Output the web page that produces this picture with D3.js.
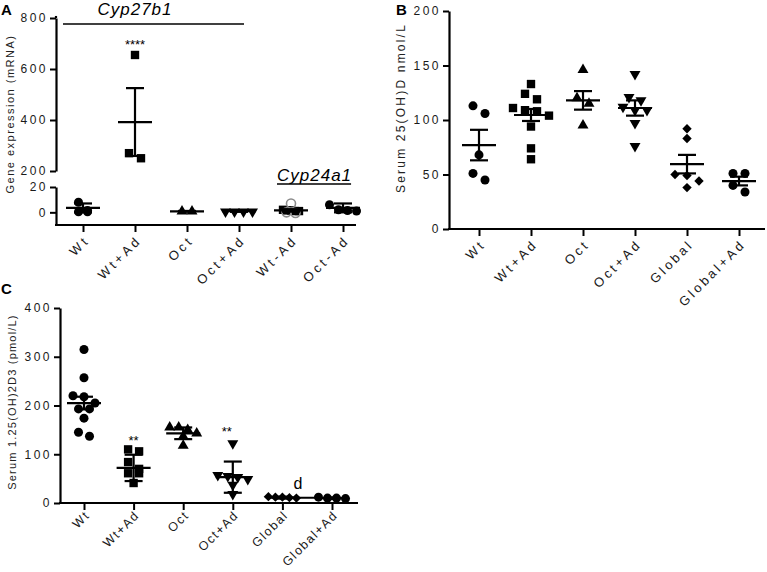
<!DOCTYPE html>
<html><head><meta charset="utf-8">
<script src="https://cdn.jsdelivr.net/npm/d3@7"></script>
<style>
body{margin:0;background:#fff;}
svg{display:block;font-family:"Liberation Sans",Arial,sans-serif;}
</style></head><body>
<svg id="c" width="767" height="572"></svg>
<script>
// ---------- DATA ----------
const catsA = ["Wt","Wt+Ad","Oct","Oct+Ad","Wt-Ad","Oct-Ad"];
const catsBC = ["Wt","Wt+Ad","Oct","Oct+Ad","Global","Global+Ad"];

// Panel A: Gene expression (mRNA)
const aWt = [1.5, 0.5, 0.5, 8];
const aWtAd = [655, 270, 250];
const aOct = [0.8, 0.8];
const aOctAd = [0.5, 0.5, 0.5, 0.5];
const aWtMinusAd = [1, 1.5, 1, 2, 1.5];
const aWtMinusAdGrey = [-0.5, 0, 7];
const aOctMinusAd = [1, 1.5, 2, 6];
const aMean = [3.5, 392, 0.8, 1, 1.5, 3.5];
const aErr = [3.5, 133, 0.3, 0.6, 1, 3.5];
const aTicksUpper = [200, 400, 600, 800];
const aTicksLower = [0, 20];

// Panel B: Serum 25(OH)D nmol/L
const bWt = [106, 113, 68, 51, 45];
const bWtAd = [133, 124, 119, 111, 109, 108, 104, 94, 74, 64];
const bOct = [146, 115, 120, 95];
const bOctAd = [142, 118, 121, 109, 109, 112, 97, 76];
const bGlobal = [92, 83, 49, 50, 44, 38];
const bGlobalAd = [51, 51, 40, 34];
const bMean = [77, 104.6, 118, 111, 59.5, 44];
const bErr = [14, 5.5, 8.5, 7, 8.5, 4];
const bTicks = [0, 50, 100, 150, 200];

// Panel C: Serum 1.25(OH)2D3 (pmol/L)
const cWt = [315, 257, 220, 218, 205, 193, 193, 174, 145, 137];
const cWtAd = [110, 106, 84, 70, 61, 61, 41];
const cOct = [155, 155, 150, 143, 137, 118];
const cOctAd = [122, 57, 55, 53, 49, 37, 18];
const cGlobal = [12, 11, 13, 10, 12];
const cGlobalAd = [10, 9, 10, 12];
const cMean = [205, 72, 143, 53, 11, 10];
const cErr = [13, 27, 12, 32, 2, 1.5];
const cTicks = [0, 100, 200, 300, 400];

// ---------- HELPERS ----------
const svg = d3.select("#c");
const FONT = "Liberation Sans, Arial, sans-serif";

const shapes = {
  circle: {type: d3.symbolCircle, size: 64, rot: 0},
  square: {type: d3.symbolSquare, size: 70, rot: 0},
  triUp: {type: d3.symbolTriangle, size: 52, rot: 0},
  triDown: {type: d3.symbolTriangle, size: 52, rot: 180},
  diamond: {type: d3.symbolSquare, size: 44, rot: 45}
};

function swarm(ys, binH, step) {
  const idx = ys.map((v, i) => i).sort((a, b) => ys[a] - ys[b]);
  const off = new Array(ys.length).fill(0);
  let bin = [], start = null;
  const flush = () => bin.forEach((i, k) => off[i] = (k - (bin.length - 1) / 2) * step);
  idx.forEach(i => {
    if (start === null || ys[i] - start > binH) { if (bin.length) flush(); bin = [i]; start = ys[i]; }
    else bin.push(i);
  });
  if (bin.length) flush();
  return off;
}

function points(g, cx, yS, vals, shape, step, style) {
  const ys = vals.map(v => yS(v));
  const off = swarm(ys, 8.5, step);
  const s = shapes[shape];
  const p = d3.symbol().type(s.type).size(s.size)();
  vals.forEach((v, i) => {
    const el = g.append("path").attr("d", p)
      .attr("transform", `translate(${cx + off[i]},${ys[i]}) rotate(${s.rot})`);
    if (style === "grey") el.attr("fill", "none").attr("stroke", "#8a8a8a").attr("stroke-width", 1.6);
    else el.attr("fill", "#000");
  });
}

function errbar(g, cx, yS, mean, err, meanW = 17, capW = 9) {
  const st = sel => sel.attr("stroke", "#000").attr("stroke-width", 2.2);
  st(g.append("line").attr("x1", cx).attr("x2", cx).attr("y1", yS(mean + err)).attr("y2", yS(mean - err)));
  st(g.append("line").attr("x1", cx - capW).attr("x2", cx + capW).attr("y1", yS(mean + err)).attr("y2", yS(mean + err)));
  st(g.append("line").attr("x1", cx - capW).attr("x2", cx + capW).attr("y1", yS(mean - err)).attr("y2", yS(mean - err)));
  st(g.append("line").attr("x1", cx - meanW).attr("x2", cx + meanW).attr("y1", yS(mean)).attr("y2", yS(mean)));
}

function styleAxis(g) {
  g.attr("font-family", FONT).attr("font-size", 12);
  g.selectAll("path.domain").attr("stroke-width", 2.2);
  g.selectAll(".tick line").attr("stroke-width", 2);
  g.selectAll(".tick text").attr("fill", "#1a1a1a").style("letter-spacing", "2.5px");
}

function yAxis(x, scale, ticks) {
  const g = svg.append("g").attr("transform", `translate(${x},0)`)
    .call(d3.axisLeft(scale).tickValues(ticks).tickSize(6).tickSizeOuter(0).tickPadding(2));
  styleAxis(g);
  return g;
}

function xAxis(y, scale, x0, x1, ls, fs, dx, dy) {
  svg.append("line").attr("x1", x0).attr("x2", x1).attr("y1", y).attr("y2", y)
    .attr("stroke", "#000").attr("stroke-width", 2.2);
  const g = svg.append("g").attr("transform", `translate(0,${y})`)
    .call(d3.axisBottom(scale).tickSize(7).tickSizeOuter(0));
  styleAxis(g);
  g.select("path.domain").remove();
  g.selectAll(".tick text")
    .attr("x", 0).attr("y", 0).attr("dy", 0)
    .attr("text-anchor", "end")
    .attr("font-size", fs)
    .attr("transform", `translate(${dx},${dy}) rotate(-45)`)
    .style("letter-spacing", ls + "px");
  return g;
}

function yTitle(x, yc, txt, size, ls) {
  svg.append("text").attr("transform", `translate(${x},${yc}) rotate(-90)`)
    .attr("text-anchor", "middle").attr("font-size", size).attr("fill", "#222")
    .style("letter-spacing", ls + "px").text(txt);
}

function panelLabel(x, y, t) {
  svg.append("text").attr("x", x).attr("y", y).attr("font-size", 15).attr("font-weight", "bold").text(t);
}

// ---------- PANEL A ----------
const xA = d3.scalePoint().domain(catsA).range([83, 343]);
const yAup = d3.scaleLinear().domain([200, 800]).range([171, 18]);
const yAlo = d3.scaleLinear().domain([-10, 20]).range([225, 187]);
const gA = svg.append("g");

yAxis(56, yAup, aTicksUpper);
svg.append("line").attr("x1", 56).attr("x2", 56).attr("y1", yAup(800)).attr("y2", yAup(808))
  .attr("stroke", "#000").attr("stroke-width", 2.2);
yAxis(56, yAlo, aTicksLower);
xAxis(225, xA, 55, 356, 3.2, 13, 7, 16);

points(gA, xA("Wt"), yAlo, aWt, "circle", 9);
points(gA, xA("Wt+Ad"), yAup, aWtAd, "square", 12);
points(gA, xA("Oct"), yAlo, aOct, "triUp", 10);
points(gA, xA("Oct+Ad"), yAlo, aOctAd, "triDown", 9);
points(gA, xA("Wt-Ad"), yAlo, aWtMinusAd, "square", 4);
points(gA, xA("Wt-Ad"), yAlo, aWtMinusAdGrey, "circle", 9, "grey");
points(gA, xA("Oct-Ad"), yAlo, aOctMinusAd, "circle", 9);
catsA.forEach((c, i) => errbar(gA, xA(c), i === 1 ? yAup : yAlo, aMean[i], aErr[i]));

yTitle(14, 114, "Gene expression (mRNA)", 11, 1.5);
panelLabel(1, 15, "A");

svg.append("text").attr("x", 135).attr("y", 15).attr("text-anchor", "middle")
  .attr("font-size", 17).attr("font-style", "italic").style("letter-spacing", "1px").text("Cyp27b1");
svg.append("line").attr("x1", 63).attr("x2", 244).attr("y1", 24).attr("y2", 24)
  .attr("stroke", "#000").attr("stroke-width", 1.3);
svg.append("text").attr("x", xA("Wt+Ad")).attr("y", 49).attr("text-anchor", "middle")
  .attr("font-size", 13).text("****");
const t2 = svg.append("text").attr("x", 277).attr("y", 181)
  .attr("font-size", 17).attr("font-style", "italic").style("letter-spacing", "1px").text("Cyp24a1");
const w2 = t2.node().getComputedTextLength();
svg.append("line").attr("x1", 277).attr("x2", 277 + w2 - 1).attr("y1", 184).attr("y2", 184)
  .attr("stroke", "#000").attr("stroke-width", 1.3);

// ---------- PANEL B ----------
const xB = d3.scalePoint().domain(catsBC).range([479, 739]);
const yB = d3.scaleLinear().domain([0, 200]).range([229, 11]);
const gB = svg.append("g");
yAxis(449, yB, bTicks);
xAxis(229, xB, 448, 765, 3, 13, 7, 16);
const bVals = [bWt, bWtAd, bOct, bOctAd, bGlobal, bGlobalAd];
const bShapes = ["circle", "square", "triUp", "triDown", "diamond", "circle"];
catsBC.forEach((c, i) => points(gB, xB(c), yB, bVals[i], bShapes[i], 12));
catsBC.forEach((c, i) => errbar(gB, xB(c), yB, bMean[i], bErr[i]));
yTitle(405, 108, "Serum 25(OH)D nmol/L", 12, 2.2);
panelLabel(396, 15, "B");

// ---------- PANEL C ----------
const xC = d3.scalePoint().domain(catsBC).range([84, 332]);
const yC = d3.scaleLinear().domain([0, 400]).range([503, 308]);
const gC = svg.append("g");
yAxis(60, yC, cTicks);
xAxis(503, xC, 59, 358, 1.5, 12.5, 6, 13);
const cVals = [cWt, cWtAd, cOct, cOctAd, cGlobal, cGlobalAd];
const cShapes = ["circle", "square", "triUp", "triDown", "diamond", "circle"];
const cSteps = [11, 11, 9, 10, 7, 9];
catsBC.forEach((c, i) => points(gC, xC(c), yC, cVals[i], cShapes[i], cSteps[i]));
catsBC.forEach((c, i) => errbar(gC, xC(c), yC, cMean[i], cErr[i], i >= 4 ? 15 : 17, i >= 4 ? 6 : 9));
gC.append("line").attr("x1", xC("Global")).attr("x2", xC("Global+Ad") - 10)
  .attr("y1", yC(cMean[4])).attr("y2", yC(cMean[4])).attr("stroke", "#000").attr("stroke-width", 2);
svg.append("text").attr("x", xC("Wt+Ad")).attr("y", 445).attr("text-anchor", "middle").attr("font-size", 13).text("**");
svg.append("text").attr("x", xC("Oct+Ad") - 6).attr("y", 436).attr("text-anchor", "middle").attr("font-size", 13).text("**");
svg.append("text").attr("x", xC("Global") + 11).attr("y", 489).attr("font-size", 16).text("d");
yTitle(16, 402, "Serum 1.25(OH)2D3 (pmol/L)", 11, 1.2);
panelLabel(1, 294, "C");
</script>
</body></html>
